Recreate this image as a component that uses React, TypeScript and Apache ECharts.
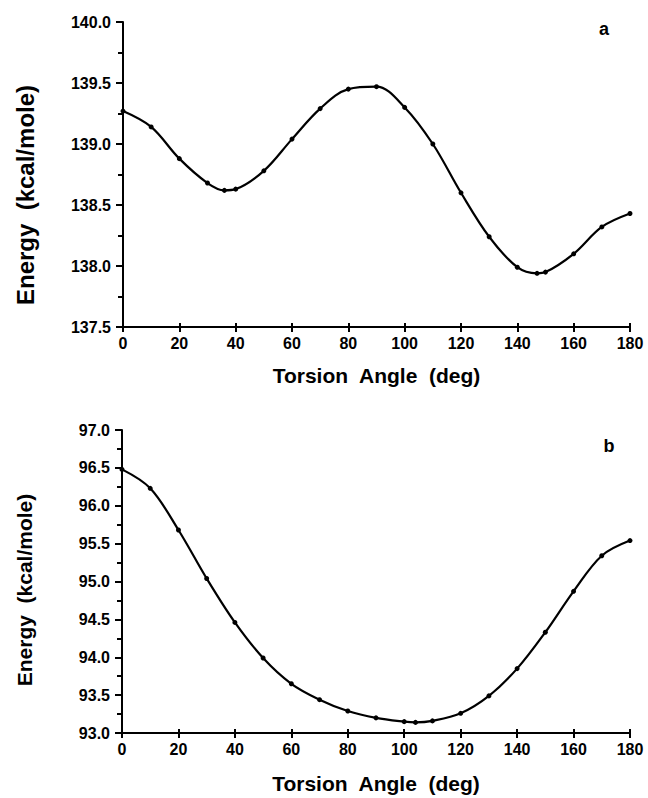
import React, { useEffect, useRef } from "react";
import * as echarts from "echarts";

const angleA = [0, 10, 20, 30, 36, 40, 50, 60, 70, 80, 90, 100, 110, 120, 130, 140, 147, 150, 160, 170, 180];
const energyA = [139.27, 139.14, 138.88, 138.68, 138.62, 138.63, 138.78, 139.04, 139.29, 139.45, 139.47, 139.3, 139.0, 138.6, 138.24, 137.99, 137.94, 137.95, 138.1, 138.32, 138.43];

const angleB = [0, 10, 20, 30, 40, 50, 60, 70, 80, 90, 100, 104, 110, 120, 130, 140, 150, 160, 170, 180];
const energyB = [96.48, 96.23, 95.68, 95.04, 94.46, 93.99, 93.65, 93.44, 93.29, 93.2, 93.15, 93.14, 93.16, 93.26, 93.49, 93.85, 94.33, 94.87, 95.34, 95.54];

const xTitle = "Torsion  Angle  (deg)";
const yTitle = "Energy  (kcal/mole)";
const panelLabels = ["a", "b"];

const FONT = '"Liberation Sans", Arial, sans-serif';

export default function App() {
  const ref = useRef<HTMLDivElement>(null);
  useEffect(() => {
    const chart = echarts.init(ref.current!, null, { renderer: "svg" });
    const axisLineStyle = { color: "#000", width: 2 };
    const mkX = (gridIndex: number, nameGap: number) => ({
      type: "value",
      gridIndex,
      min: 0,
      max: 180,
      interval: 20,
      name: xTitle,
      nameLocation: "middle",
      nameGap,
      nameTextStyle: { fontFamily: FONT, fontWeight: "bold", fontSize: 21, color: "#000" },
      axisLine: { show: true, lineStyle: axisLineStyle },
      axisTick: { show: true, inside: false, length: 5, lineStyle: axisLineStyle },
      axisLabel: { fontFamily: FONT, fontWeight: "bold", fontSize: 16, color: "#000", margin: 8 },
      splitLine: { show: false },
    });
    const mkXInner = (gridIndex: number) => ({
      type: "value",
      gridIndex,
      position: "bottom",
      offset: 0,
      min: 0,
      max: 180,
      interval: 20,
      axisLine: { show: false },
      axisTick: { show: true, inside: true, length: 4, lineStyle: axisLineStyle },
      axisLabel: { show: false },
      splitLine: { show: false },
    });
    const mkY = (gridIndex: number, min: number, max: number) => ({
      type: "value",
      gridIndex,
      min,
      max,
      interval: 0.5,
      axisLine: { show: true, lineStyle: axisLineStyle },
      axisTick: { show: true, inside: false, length: 7, lineStyle: axisLineStyle },
      minorTick: { show: true, splitNumber: 2, length: 5, lineStyle: { color: "#000", width: 2 } },
      axisLabel: {
        fontFamily: FONT,
        fontWeight: "bold",
        fontSize: 16,
        color: "#000",
        margin: 12,
        formatter: (v: number) => v.toFixed(1),
      },
      splitLine: { show: false },
      minorSplitLine: { show: false },
    });
    const lineSeries = (idx: number, xs: number[], ys: number[]) => ({
      type: "line",
      xAxisIndex: idx * 2,
      yAxisIndex: idx,
      data: xs.map((x, i) => [x, ys[i]]),
      smooth: 0.35,
      symbol: "circle",
      symbolSize: 5,
      showAllSymbol: true,
      lineStyle: { color: "#000", width: 2.2 },
      itemStyle: { color: "#000" },
    });
    chart.setOption({
      animation: false,
      backgroundColor: "#fff",
      grid: [
        { left: 123, top: 22, width: 507, height: 305 },
        { left: 122, top: 430, width: 508, height: 303 },
      ],
      xAxis: [mkX(0, 38), mkXInner(0), mkX(1, 40), mkXInner(1)],
      yAxis: [mkY(0, 137.5, 140.0), mkY(1, 93.0, 97.0)],
      series: [lineSeries(0, angleA, energyA), lineSeries(1, angleB, energyB)],
      graphic: [
        {
          type: "text",
          x: 25,
          y: 195,
          rotation: Math.PI / 2,
          style: { text: yTitle, font: `bold 24px ${FONT}`, fill: "#000", align: "center", verticalAlign: "middle" },
        },
        {
          type: "text",
          x: 24,
          y: 590,
          rotation: Math.PI / 2,
          style: { text: yTitle, font: `bold 21px ${FONT}`, fill: "#000", align: "center", verticalAlign: "middle" },
        },
        {
          type: "text",
          x: 604,
          y: 29,
          style: { text: panelLabels[0], font: `bold 18px ${FONT}`, fill: "#000", align: "center", verticalAlign: "middle" },
        },
        {
          type: "text",
          x: 609,
          y: 446,
          style: { text: panelLabels[1], font: `bold 18px ${FONT}`, fill: "#000", align: "center", verticalAlign: "middle" },
        },
      ],
    });
    return () => chart.dispose();
  }, []);
  return (
    <div
      ref={ref}
      style={{ position: "fixed", left: 0, top: 0, width: 648, height: 798, background: "#fff" }}
    />
  );
}
